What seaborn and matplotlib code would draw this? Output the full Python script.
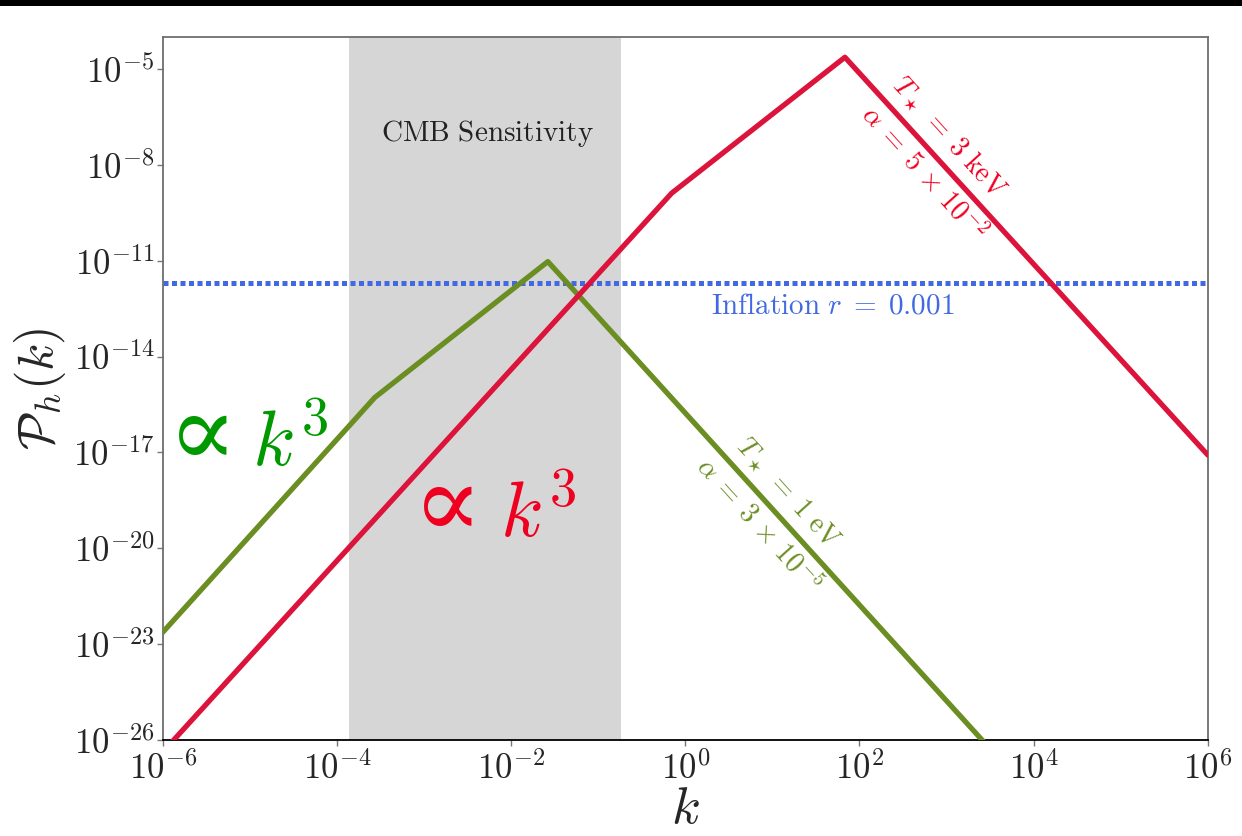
import numpy as np
import pandas as pd
import matplotlib
matplotlib.use("Agg")
import matplotlib.pyplot as plt
import seaborn as sns
from matplotlib.ticker import FixedLocator, FuncFormatter, NullLocator
from matplotlib.patches import Rectangle

# Broken power-law tensor spectra: breakpoints (k, P_h)
k_ev = [1e-6, 10**-3.565, 10**-1.578, 3e3]
p_ev = [10**-22.625, 10**-15.28, 10**-11.03, 10**-26.2]
k_kev = [1e-6, 10**-0.156, 10**1.833, 1e6]
p_kev = [10**-26.37, 10**-8.89, 10**-4.64, 10**-17.08]

# Inflationary floor and CMB window
p_inflation = 2.05e-12
cmb_window = [1.37e-4, 0.184]

ytick_exps = [-26, -23, -20, -17, -14, -11, -8, -5]
xtick_exps = [-6, -4, -2, 0, 2, 4, 6]

sns.set_style("white")
plt.rcParams.update({
    "mathtext.fontset": "cm",
    "font.family": ["DejaVu Serif"],
})

RED_LINE = "#DC143C"
GREEN_LINE = "#6B8E23"
RED_TEXT = "#F00020"
GREEN_TEXT = "#009A00"
BLUE = "#4169E1"

fig = plt.figure(figsize=(12.42, 8.36), dpi=100)
ax = fig.add_axes([0.131, 0.1145, 0.8415, 0.8415])
ax.set(xscale="log", yscale="log")

df_ev = pd.DataFrame({"k": k_ev, "P": p_ev})
df_kev = pd.DataFrame({"k": k_kev, "P": p_kev})

ax.axvspan(cmb_window[0], cmb_window[1], color="#d6d6d6", lw=0, zorder=0)
ax.axhline(p_inflation, color=BLUE, lw=3.6, linestyle=(0, (1, 0.7)), zorder=2)

sns.lineplot(data=df_ev, x="k", y="P", ax=ax, color=GREEN_LINE, lw=3.8,
             sort=False, estimator=None, zorder=3)
sns.lineplot(data=df_kev, x="k", y="P", ax=ax, color=RED_LINE, lw=3.8,
             sort=False, estimator=None, zorder=3)

ax.set_xlim(1e-6, 1e6)
ax.set_ylim(1e-26, 1e-4)

ax.xaxis.set_major_locator(FixedLocator([10.0**e for e in xtick_exps]))
ax.yaxis.set_major_locator(FixedLocator([10.0**e for e in ytick_exps]))
ax.xaxis.set_minor_locator(NullLocator())
ax.yaxis.set_minor_locator(NullLocator())
fmt = FuncFormatter(lambda v, pos: r"$10^{%d}$" % int(round(np.log10(v))))
ax.xaxis.set_major_formatter(fmt)
ax.yaxis.set_major_formatter(fmt)
ax.tick_params(axis="both", which="major", labelsize=25, length=4,
               width=1, color="#777777", direction="out", pad=2,
               left=True, bottom=True, top=False, right=False)
ax.tick_params(axis="x", pad=4)

for side in ["left", "top", "right"]:
    ax.spines[side].set_color("#6e6e6e")
    ax.spines[side].set_linewidth(1.3)
ax.spines["bottom"].set_color("black")
ax.spines["bottom"].set_linewidth(1.3)

ax.set_xlabel(r"$k$", fontsize=38, labelpad=-2)
ax.set_ylabel(r"$\mathcal{P}_h(k)$", fontsize=36, labelpad=4)

# Annotations
ax.text(10**-2.275, 10**-7.02, r"$\mathrm{CMB\ Sensitivity}$", fontsize=21,
        color="#222222", ha="center", va="center")
ax.text(10**1.69, 10**-12.40, r"$\mathrm{Inflation}\ r\;=\;0.001$", fontsize=21,
        color=BLUE, ha="center", va="center")

# k^3 scaling labels: proportional sign + power law
for (kx_sym, kx_pow, py, col) in [(-5.94, -4.976, -17.43, GREEN_TEXT),
                                   (-3.13, -2.126, -19.65, RED_TEXT)]:
    ax.text(10**kx_sym, 10**py, "\u221d", fontsize=74,
            family="DejaVu Serif", color=col, ha="left", va="baseline")
    ax.text(10**kx_pow, 10**py, r"$k^3$", fontsize=56,
            color=col, ha="left", va="baseline")

rot = -47.8
ax.text(10**3.03, 10**-7.15, r"$T_\star\;=\;3\ \mathrm{keV}$", fontsize=20,
        color=RED_TEXT, rotation=rot, ha="center", va="center",
        rotation_mode="anchor")
ax.text(10**2.73, 10**-8.27, r"$\alpha\;=\;5\,\times\,10^{-2}$", fontsize=20,
        color=RED_TEXT, rotation=rot, ha="center", va="center",
        rotation_mode="anchor")
ax.text(10**1.17, 10**-18.27, r"$T_\star\;=\;1\ \mathrm{eV}$", fontsize=20,
        color=GREEN_LINE, rotation=rot, ha="center", va="center",
        rotation_mode="anchor")
ax.text(10**0.84, 10**-19.27, r"$\alpha\;=\;3\,\times\,10^{-5}$", fontsize=20,
        color=GREEN_LINE, rotation=rot, ha="center", va="center",
        rotation_mode="anchor")

# Dark band along the top edge of the canvas
fig.add_artist(Rectangle((0, 1 - 6 / 836), 1, 6 / 836,
                         transform=fig.transFigure, color="black", lw=0))

fig.savefig("out.png", dpi=100)
